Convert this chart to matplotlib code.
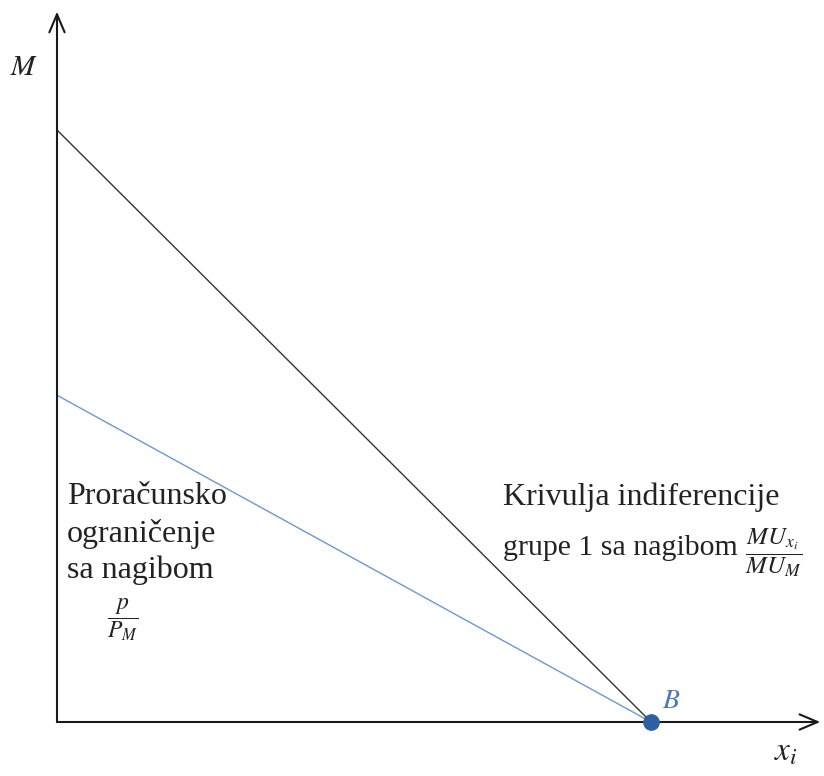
import matplotlib
matplotlib.use("Agg")
import matplotlib.pyplot as plt

plt.rcParams['font.family'] = ['Liberation Serif', 'DejaVu Serif']
plt.rcParams['mathtext.fontset'] = 'stix'

# data (abstract units)
indiff_x = [0.0, 10.0]
indiff_y = [10.0, 0.0]
budget_x = [0.0, 10.0]
budget_y = [5.52, 0.0]
point_B = (10.0, 0.0)
axis_x_end = 12.85
axis_y_end = 12.0

fig = plt.figure(figsize=(8.24, 7.76), dpi=100)
ax = fig.add_axes([0, 0, 1, 1])
sx = 59.4
sy = 59.2
ax.set_xlim(-57 / sx, (824 - 57) / sx)
ax.set_ylim(-54 / sy, (776 - 54) / sy)
ax.axis('off')

# axes with open arrows
arrow = dict(arrowstyle='->,head_length=1.3,head_width=0.55', lw=1.5,
             color='#1a1a1a', shrinkA=0, shrinkB=0)
ax.annotate('', xy=(axis_x_end, 0), xytext=(0, 0), arrowprops=arrow)
ax.annotate('', xy=(0, axis_y_end), xytext=(0, 0), arrowprops=arrow)

ax.plot(indiff_x, indiff_y, color='#333333', lw=1.0)
ax.plot(budget_x, budget_y, color='#6f97cc', lw=1.0)
ax.plot(*point_B, 'o', color='#2e5f9e', ms=11, zorder=5)

def px(x, y):
    return ((x - 57) / sx, (722 - y) / sy)

fs = 23
ax.text(*px(24, 68), r'$M$', fontsize=21, ha='center', va='center', color='#222222')
ax.text(*px(786, 752), r'$x_i$', fontsize=24, ha='center', va='center', color='#222222')
ax.text(*px(671, 701), r'$B$', fontsize=20, ha='center', va='center', color='#4f78b0')

ax.text(*px(67, 497), 'Proračunsko', fontsize=fs, ha='left', va='center', color='#222222')
ax.text(*px(67, 534), 'ograničenje', fontsize=fs, ha='left', va='center', color='#222222')
ax.text(*px(67, 570), 'sa nagibom', fontsize=fs, ha='left', va='center', color='#222222')
ax.text(*px(123, 620), r'$\dfrac{p}{P_M}$', fontsize=17, ha='center', va='center', color='#222222')

ax.text(*px(503, 497), 'Krivulja indiferencije', fontsize=fs, ha='left', va='center', color='#222222')
ax.text(*px(503, 548), 'grupe 1 sa nagibom', fontsize=21.5, ha='left', va='center', color='#222222')
ax.text(*px(774, 553), r'$\dfrac{MU_{x_i}}{MU_M}$', fontsize=18, ha='center', va='center', color='#222222')

fig.savefig('out.png', dpi=100)
